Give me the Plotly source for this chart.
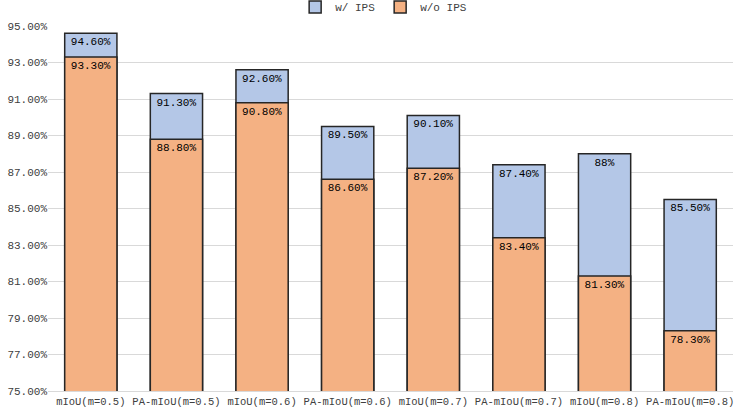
import plotly.graph_objects as go

categories = ["mIoU(m=0.5)", "PA-mIoU(m=0.5)", "mIoU(m=0.6)", "PA-mIoU(m=0.6)",
              "mIoU(m=0.7)", "PA-mIoU(m=0.7)", "mIoU(m=0.8)", "PA-mIoU(m=0.8)"]
with_ips = [94.6, 91.3, 92.6, 89.5, 90.1, 87.4, 88.0, 85.5]
without_ips = [93.3, 88.8, 90.8, 86.6, 87.2, 83.4, 81.3, 78.3]
with_labels = ["94.60%", "91.30%", "92.60%", "89.50%", "90.10%", "87.40%", "88%", "85.50%"]
without_labels = ["93.30%", "88.80%", "90.80%", "86.60%", "87.20%", "83.40%", "81.30%", "78.30%"]
tick_vals = [75, 77, 79, 81, 83, 85, 87, 89, 91, 93, 95]
tick_text = ["75.00%", "77.00%", "79.00%", "81.00%", "83.00%", "85.00%",
             "87.00%", "89.00%", "91.00%", "93.00%", "95.00%"]

FONT = "Liberation Mono"
fig = go.Figure()
fig.add_trace(go.Bar(
    x=categories, y=with_ips, name="w/ IPS", text=with_labels,
    textposition="inside", insidetextanchor="end", textangle=0,
    insidetextfont=dict(color="black", size=11, family=FONT),
    marker=dict(color="#B4C7E7", line=dict(color="#262626", width=1.5)),
))
fig.add_trace(go.Bar(
    x=categories, y=without_ips, name="w/o IPS", text=without_labels,
    textposition="inside", insidetextanchor="end", textangle=0,
    insidetextfont=dict(color="black", size=11, family=FONT),
    marker=dict(color="#F4B183", line=dict(color="#262626", width=1.5)),
))
fig.update_layout(
    width=737, height=410,
    margin=dict(l=48, r=4, t=26, b=19, autoexpand=False),
    barmode="overlay", bargap=0.39,
    plot_bgcolor="white", paper_bgcolor="white",
    font=dict(family=FONT, size=11, color="#404040"),
    showlegend=True,
    legend=dict(orientation="h", x=0.49, xanchor="center", y=1.052, yanchor="middle",
                font=dict(size=11, color="#404040"), itemwidth=30,
                traceorder="normal", bgcolor="rgba(0,0,0,0)"),
    uniformtext=dict(mode=False),
)
fig.update_yaxes(range=[75, 95], tickvals=tick_vals, ticktext=tick_text,
                 showgrid=True, gridcolor="#D9D9D9", gridwidth=1, zeroline=False,
                 ticks="", tickfont=dict(size=11, color="#404040"), automargin=False)
fig.update_xaxes(showline=True, linecolor="#D9D9D9", linewidth=1, ticks="",
                 tickfont=dict(size=10.5, color="#404040"), automargin=False)
fig.write_html("out.html")
